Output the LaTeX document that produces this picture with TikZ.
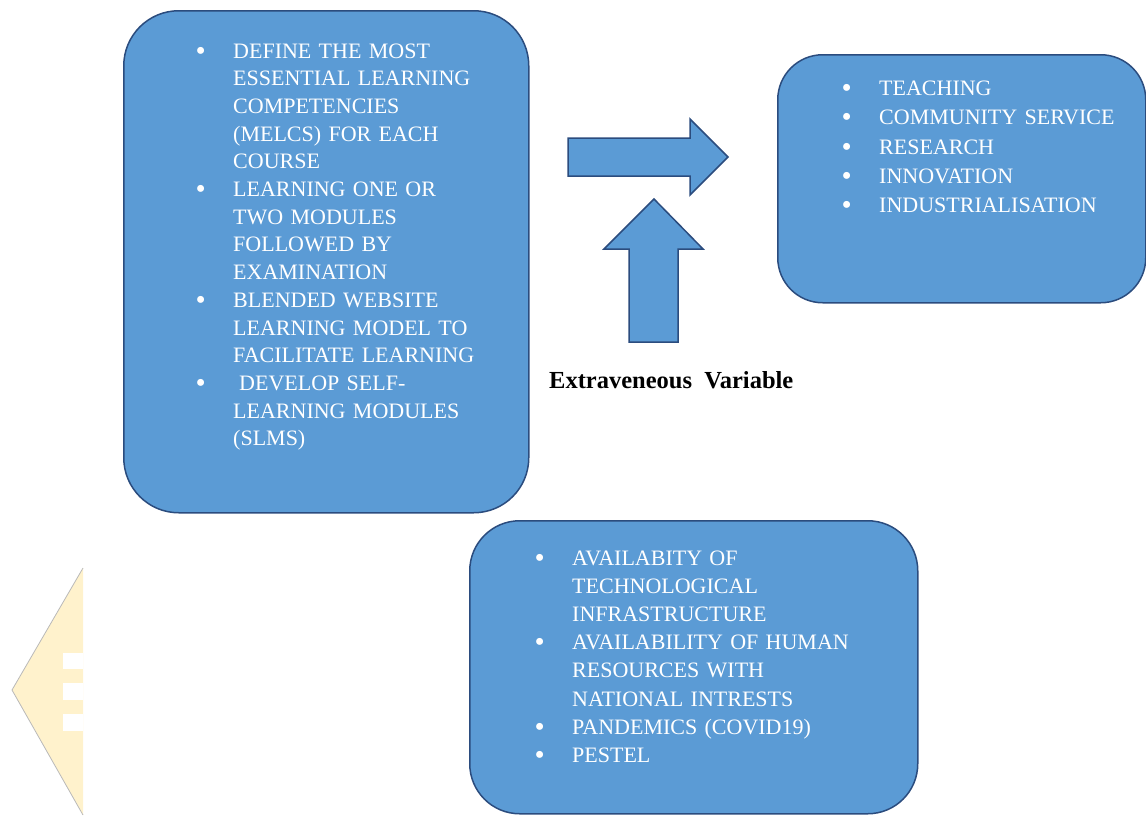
\documentclass[tikz,border=0pt]{standalone}
\usepackage{fontspec}
\setmainfont{Liberation Serif}
\definecolor{boxfill}{HTML}{5B9BD5}
\definecolor{boxline}{HTML}{2B4C7E}
\definecolor{paleyellow}{HTML}{FFF2CC}
\newcommand\mybul{\makebox[36pt][l]{\hspace*{-1.5pt}\raisebox{-2pt}{\fontsize{29}{29}\selectfont\textbullet}}}
\newcommand\mycont{\hspace*{36pt}}
\begin{document}
\begin{tikzpicture}[x=1pt,y=-1pt,
  box/.style={draw=boxline, fill=boxfill, line width=1.5pt, rounded corners=#1, anchor=north west, inner sep=0pt},
  blockarrow/.style={draw=boxline, fill=boxfill, line width=1.5pt, line join=miter},
  itemtext/.style={anchor=base west, inner sep=0pt, text=white, align=left, text width=#1},
  itemfont/.style={font=\fontsize{22}{#1}\selectfont}]
\useasboundingbox (0,0) rectangle (1146,815);
% decorative pale shape at left
\fill[paleyellow] (83,568) -- (12,690) -- (83,815) -- cycle;
\draw[gray!55, line width=0.8pt] (83,568) -- (12,690) -- (83,815);
\fill[white] (63,653) rectangle (83,669);
\fill[white] (63,683) rectangle (83,700);
\fill[white] (63,714) rectangle (83,731);
% boxes
\node[box=55pt, minimum width=405pt, minimum height=502pt] (inputs) at (123,10) {};
\node[box=45pt, minimum width=368pt, minimum height=248pt] (outputs) at (777,54) {};
\node[box=50pt, minimum width=448pt, minimum height=293pt] (extvars) at (469,520) {};
% texts
\node[itemtext=330pt, itemfont=27.7] (inputstext) at (197,58) {%
\mybul DEFINE THE MOST\\
\mycont ESSENTIAL LEARNING\\
\mycont COMPETENCIES\\
\mycont (MELCS) FOR EACH\\
\mycont COURSE\\
\mybul LEARNING ONE OR\\
\mycont TWO MODULES\\
\mycont FOLLOWED BY\\
\mycont EXAMINATION\\
\mybul BLENDED WEBSITE\\
\mycont LEARNING MODEL TO\\
\mycont FACILITATE LEARNING\\
\mybul \hspace*{6pt}DEVELOP SELF-\\
\mycont LEARNING MODULES\\
\mycont (SLMS)};
\node[itemtext=300pt, itemfont=29.3] (outputstext) at (843,95.5) {%
\mybul TEACHING\\
\mybul COMMUNITY SERVICE\\
\mybul RESEARCH\\
\mybul INNOVATION\\
\mybul INDUSTRIALISATION};
\node[itemtext=370pt, itemfont=28.2] (extvarstext) at (536,565) {%
\mybul AVAILABITY OF\\
\mycont TECHNOLOGICAL\\
\mycont INFRASTRUCTURE\\
\mybul AVAILABILITY OF HUMAN\\
\mycont RESOURCES WITH\\
\mycont NATIONAL INTRESTS\\
\mybul PANDEMICS (COVID19)\\
\mybul PESTEL};
% block arrows
\draw[blockarrow] (568,138) -- (690,138) -- (690,119) -- (728,157) -- (690,195) -- (690,176) -- (568,176) -- cycle;
\draw[blockarrow] (629,342) -- (629,249) -- (604,249) -- (654,199) -- (703,249) -- (678,249) -- (678,342) -- cycle;
\node[anchor=base west, inner sep=0pt, font=\fontsize{24.5}{28}\selectfont\bfseries] (extlabel) at (549,388) {Extraveneous\ \ Variable};
\end{tikzpicture}
\end{document}
